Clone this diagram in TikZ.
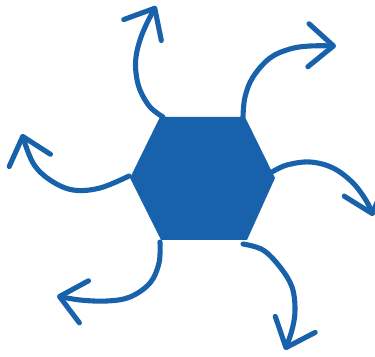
\documentclass[tikz,border=0pt]{standalone}
\usepackage{tikz,xcolor}
\usetikzlibrary{arrows.meta}
\definecolor{hexblue}{RGB}{24,98,172}

\begin{document}
\begin{tikzpicture}[x=0.02cm,y=-0.02cm,
  curlyarrow/.style={hexblue,line width=2.9pt,line cap=round,
    -{Straight Barb[length=5mm,width=8.6mm,round]}}]
\useasboundingbox (0,0) rectangle (375,357);

% hexagon corners
\coordinate (v1) at (160,117); \coordinate (v2) at (245,117);
\coordinate (v3) at (275,178); \coordinate (v4) at (247,240);
\coordinate (v5) at (161,240); \coordinate (v6) at (130,178);
\fill[hexblue] (v1) -- (v2) -- (v3) -- (v4) -- (v5) -- (v6) -- cycle;

% tails and tips of the arrows
\coordinate (tail1) at (163,117); \coordinate (tip1) at (156,6);
\coordinate (tail2) at (243,117); \coordinate (tip2) at (336,46);
\coordinate (tail3) at (272,172); \coordinate (tip3) at (373,216);
\coordinate (tail4) at (243,244); \coordinate (tip4) at (285,350);
\coordinate (tail5) at (160,242); \coordinate (tip5) at (57,296);
\coordinate (tail6) at (129,176); \coordinate (tip6) at (22,134);

\draw[curlyarrow] plot[smooth,tension=0.6] coordinates
  {(tail1) (150,107) (140,90) (136,73) (136,57) (140,40) (147,23) (tip1)};
\draw[curlyarrow] plot[smooth,tension=0.6] coordinates
  {(tail2) (245,97) (253,77) (270,58) (290,49) (310,46) (tip2)};
\draw[curlyarrow] plot[smooth,tension=0.6] coordinates
  {(tail3) (287,165) (310,162) (333,168) (353,183) (367,202) (tip3)};
\draw[curlyarrow] plot[smooth,tension=0.6] coordinates
  {(tail4) (263,250) (280,267) (292,287) (295,310) (292,330) (tip4)};
\draw[curlyarrow] plot[smooth,tension=0.6] coordinates
  {(tail5) (159,263) (150,283) (130,297) (107,301) (80,300) (tip5)};
\draw[curlyarrow] plot[smooth,tension=0.6] coordinates
  {(tail6) (100,188) (73,190) (50,180) (33,163) (tip6)};

\end{tikzpicture}
\end{document}
